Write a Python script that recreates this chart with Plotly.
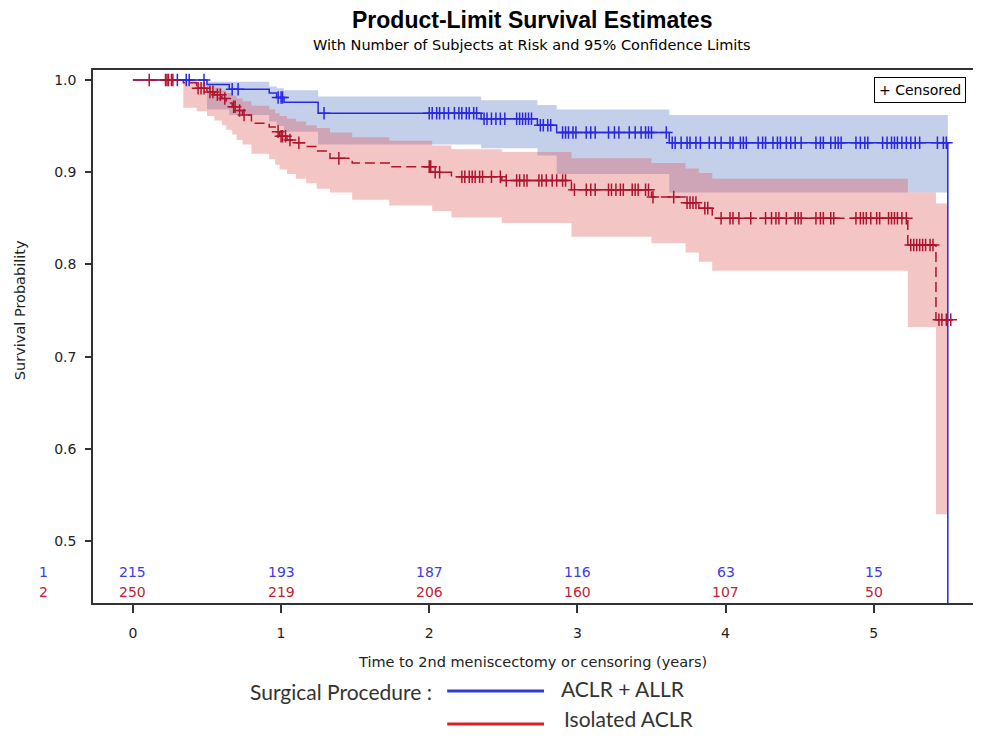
import numpy as np
import plotly.graph_objects as go

# ---------------- data ----------------
# Group 1: ACLR + ALLR  (Kaplan-Meier steps at event times)
blue_time = [0.00, 0.50, 0.65, 0.92, 0.97, 1.02, 1.25, 2.35, 2.73, 2.86, 3.62, 5.50]
blue_surv = [1.000, 0.995, 0.990, 0.986, 0.981, 0.976, 0.964, 0.958, 0.951, 0.943, 0.932, 0.000]
blue_lower = [1.000, 0.968, 0.962, 0.955, 0.950, 0.944, 0.930, 0.926, 0.918, 0.898, 0.878]
blue_upper = [1.000, 0.998, 0.998, 0.993, 0.991, 0.989, 0.982, 0.978, 0.973, 0.968, 0.962]
blue_band_end = 5.50
blue_censor = [0.30, 0.36, 0.38, 0.48, 0.67, 0.71, 0.98, 1.00, 1.01, 1.29,
               2.00, 2.02, 2.05, 2.07, 2.10, 2.13, 2.17, 2.20, 2.22, 2.25, 2.27, 2.30, 2.32,
               2.37, 2.39, 2.42, 2.45, 2.48, 2.51, 2.59, 2.61, 2.63, 2.65, 2.67, 2.69,
               2.75, 2.77, 2.80, 2.82, 2.90, 2.92, 2.94, 2.97, 2.99, 3.06, 3.09, 3.12,
               3.21, 3.25, 3.28, 3.35, 3.39, 3.43, 3.46, 3.48, 3.50, 3.60, 3.64, 3.66,
               3.70, 3.74, 3.76, 3.80, 3.83, 3.89, 3.93, 3.97, 4.03, 4.05, 4.10, 4.12,
               4.14, 4.22, 4.25, 4.27, 4.32, 4.35, 4.37, 4.41, 4.44, 4.47, 4.51, 4.61,
               4.64, 4.66, 4.71, 4.74, 4.76, 4.78, 4.88, 4.91, 4.94, 4.96, 5.06, 5.09,
               5.12, 5.14, 5.16, 5.19, 5.22, 5.25, 5.28, 5.31, 5.43, 5.47, 5.49]

# Group 2: Isolated ACLR
red_time = [0.00, 0.34, 0.43, 0.50, 0.55, 0.60, 0.63, 0.67, 0.70, 0.74, 0.80, 0.92, 0.96, 0.99,
            1.04, 1.10, 1.17, 1.24, 1.33, 1.48, 1.73, 2.02, 2.15, 2.49, 2.96, 3.50, 3.73, 3.82,
            3.91, 5.23, 5.42]
red_surv = [1.000, 0.997, 0.991, 0.987, 0.984, 0.980, 0.975, 0.971, 0.967, 0.962, 0.953, 0.949,
            0.944, 0.939, 0.935, 0.932, 0.928, 0.923, 0.915, 0.910, 0.906, 0.900, 0.895, 0.891,
            0.881, 0.873, 0.867, 0.861, 0.850, 0.821, 0.740]
red_lower = [1.000, 0.970, 0.966, 0.961, 0.956, 0.951, 0.946, 0.941, 0.935, 0.930, 0.920, 0.914,
             0.908, 0.903, 0.898, 0.893, 0.888, 0.882, 0.878, 0.870, 0.864, 0.858, 0.851, 0.845,
             0.830, 0.823, 0.813, 0.803, 0.793, 0.732, 0.529]
red_upper = [1.000, 0.9995, 0.997, 0.994, 0.992, 0.989, 0.986, 0.983, 0.980, 0.977, 0.972, 0.968,
             0.964, 0.961, 0.958, 0.955, 0.951, 0.948, 0.943, 0.938, 0.934, 0.929, 0.925, 0.922,
             0.915, 0.910, 0.904, 0.899, 0.893, 0.878, 0.866]
red_end = 5.55
red_band_end = 5.50
red_censor = [0.11, 0.22, 0.23, 0.24, 0.26, 0.27, 0.44, 0.46, 0.48, 0.52, 0.54, 0.57, 0.59, 0.62,
              0.68, 0.69, 0.72, 0.75, 0.98, 1.00, 1.01, 1.03, 1.06, 1.12, 1.39, 2.00, 2.01, 2.04,
              2.07, 2.22, 2.24, 2.27, 2.29, 2.31, 2.34, 2.36, 2.42, 2.48, 2.52, 2.59, 2.61, 2.64,
              2.66, 2.74, 2.76, 2.79, 2.83, 2.86, 2.90, 2.92, 2.98, 3.06, 3.09, 3.12, 3.21, 3.23,
              3.26, 3.29, 3.31, 3.37, 3.39, 3.41, 3.46, 3.48, 3.51, 3.65, 3.74, 3.76, 3.78, 3.80,
              3.86, 3.88, 3.97, 4.03, 4.05, 4.09, 4.17, 4.27, 4.31, 4.34, 4.36, 4.41, 4.47, 4.49,
              4.51, 4.61, 4.64, 4.66, 4.71, 4.73, 4.88, 4.91, 4.93, 4.95, 4.98, 5.02, 5.04, 5.10,
              5.12, 5.14, 5.16, 5.19, 5.22, 5.25, 5.27, 5.29, 5.31, 5.33, 5.35, 5.38, 5.40, 5.44,
              5.46, 5.49, 5.52]

# Number at risk table
risk_times = [0, 1, 2, 3, 4, 5]
risk_blue = [215, 193, 187, 116, 63, 15]
risk_red = [250, 219, 206, 160, 107, 50]

x_ticks = [0, 1, 2, 3, 4, 5]
y_ticks = [0.5, 0.6, 0.7, 0.8, 0.9, 1.0]
y_tick_text = ["0.5", "0.6", "0.7", "0.8", "0.9", "1.0"]

# ---------------- style ----------------
BLUE = "rgb(40,40,225)"
RED = "rgb(175,20,45)"
BLUE_BAND = "rgba(100,130,200,0.38)"
RED_BAND = "rgba(222,85,85,0.34)"
TFONT = "Liberation Sans, Arial, sans-serif"
FONT2 = "DejaVu Sans, Liberation Sans, sans-serif"
LEGF = "Lato, Open Sans, sans-serif"

# page offset of the figure inside the browser (body margin)
OFF = 8
W, H = 981 - OFF, 743 - OFF
# plot box in reference-picture pixels
L, R, T, B = 93, 977, 70, 603


def px_x(p):
    return (p - L) / (R - L)


def px_y(p):
    return (B - p) / (B - T)


def step_value(times, values, t):
    idx = np.searchsorted(np.array(times), t, side="right") - 1
    return [values[i] for i in idx]


fig = go.Figure()

# confidence bands
fig.add_trace(go.Scatter(x=blue_time[1:-1] + [blue_band_end], y=blue_lower[1:] + [blue_lower[-1]],
                         mode="lines", line=dict(width=0, shape="hv"), hoverinfo="skip", showlegend=False))
fig.add_trace(go.Scatter(x=blue_time[1:-1] + [blue_band_end], y=blue_upper[1:] + [blue_upper[-1]],
                         mode="lines", line=dict(width=0, shape="hv"), fill="tonexty",
                         fillcolor=BLUE_BAND, hoverinfo="skip", showlegend=False))
fig.add_trace(go.Scatter(x=red_time[1:] + [red_band_end], y=red_lower[1:] + [red_lower[-1]],
                         mode="lines", line=dict(width=0, shape="hv"), hoverinfo="skip", showlegend=False))
fig.add_trace(go.Scatter(x=red_time[1:] + [red_band_end], y=red_upper[1:] + [red_upper[-1]],
                         mode="lines", line=dict(width=0, shape="hv"), fill="tonexty",
                         fillcolor=RED_BAND, hoverinfo="skip", showlegend=False))

# survival curves
fig.add_trace(go.Scatter(x=blue_time, y=blue_surv, mode="lines",
                         line=dict(color=BLUE, width=1.5, shape="hv"), showlegend=False))
fig.add_trace(go.Scatter(x=red_time + [red_end], y=red_surv + [red_surv[-1]], mode="lines",
                         line=dict(color=RED, width=1.5, shape="hv", dash="10px,5px"), showlegend=False))

# censored marks
fig.add_trace(go.Scatter(x=blue_censor, y=step_value(blue_time, blue_surv, blue_censor), mode="markers",
                         marker=dict(symbol="cross-thin", size=9, line=dict(color=BLUE, width=1.5)),
                         showlegend=False))
fig.add_trace(go.Scatter(x=red_censor, y=step_value(red_time, red_surv, red_censor), mode="markers",
                         marker=dict(symbol="cross-thin", size=9, line=dict(color=RED, width=1.5)),
                         showlegend=False))


def label(x, y, text, size, color, family=FONT2, xref="paper", xanchor="center", **kw):
    return dict(x=x, y=y, xref=xref, yref="paper", text=text, showarrow=False,
                xanchor=xanchor, yanchor="middle",
                font=dict(family=family, size=size, color=color), **kw)


ann = []
# at-risk numbers
for t, nb, nr in zip(risk_times, risk_blue, risk_red):
    ann.append(label(t, px_y(572), str(nb), 14, "rgb(60,60,225)", xref="x"))
    ann.append(label(t, px_y(592), str(nr), 14, "rgb(190,35,55)", xref="x"))
ann.append(label(px_x(43), px_y(572), "1", 14, "rgb(60,60,225)"))
ann.append(label(px_x(43), px_y(592), "2", 14, "rgb(190,35,55)"))

# titles
ann.append(label(px_x(533), px_y(20), "<b>Product-Limit Survival Estimates</b>", 23, "black", family=TFONT))
ann.append(label(px_x(533), px_y(45), "With Number of Subjects at Risk and 95% Confidence Limits", 14.5, "black"))
ann.append(label(px_x(20), px_y(310), "Survival Probability", 14.5, "#222", textangle=-90))
ann.append(label(px_x(533), px_y(662), "Time to 2nd meniscectomy or censoring (years)", 14.5, "#222"))

# censored legend box
ann.append(dict(x=px_x(968), y=px_y(77), xref="paper", yref="paper", xanchor="right", yanchor="top",
                text="+ Censored", showarrow=False, bordercolor="black", borderwidth=1, borderpad=4,
                bgcolor="white", font=dict(family=FONT2, size=14, color="black")))

# bottom legend
ann.append(label(px_x(248), px_y(691), "Surgical Procedure :", 21, "#333", family=LEGF, xanchor="left"))
ann.append(label(px_x(560), px_y(688), "ACLR + ALLR", 21, "#333", family=LEGF, xanchor="left"))
ann.append(label(px_x(563), px_y(718), "Isolated ACLR", 21, "#333", family=LEGF, xanchor="left"))

shapes = [
    dict(type="line", xref="paper", yref="paper", x0=px_x(448), x1=px_x(545), y0=px_y(691), y1=px_y(691),
         line=dict(color="rgb(50,60,205)", width=3)),
    dict(type="line", xref="paper", yref="paper", x0=px_x(448), x1=px_x(545), y0=px_y(724), y1=px_y(724),
         line=dict(color="rgb(225,30,40)", width=3)),
]

fig.update_layout(
    width=W, height=H,
    margin=dict(l=L - OFF, r=W - (R - OFF), t=T - OFF, b=H - (B - OFF), pad=0),
    paper_bgcolor="white", plot_bgcolor="white",
    annotations=ann, shapes=shapes, showlegend=False,
    xaxis=dict(range=[(L - 133) / 148.5, (R - 133) / 148.5], tickvals=x_ticks, ticks="outside", ticklen=8,
               tickwidth=1.5, tickcolor="#333", showline=True, linecolor="#333", linewidth=1.5, mirror=True,
               showgrid=False, zeroline=False, ticklabelstandoff=8,
               tickfont=dict(family=FONT2, size=14, color="#222")),
    yaxis=dict(range=[1 - (B - 80) / 922, 1 + (80 - T) / 922], tickvals=y_ticks, ticktext=y_tick_text,
               ticks="outside", ticklen=6, tickwidth=1.5, tickcolor="#333", showline=True, linecolor="#333",
               linewidth=1.5, mirror=True, showgrid=False, zeroline=False, ticklabelstandoff=6,
               tickfont=dict(family=FONT2, size=14, color="#222")),
)

fig.write_html("out.html")
